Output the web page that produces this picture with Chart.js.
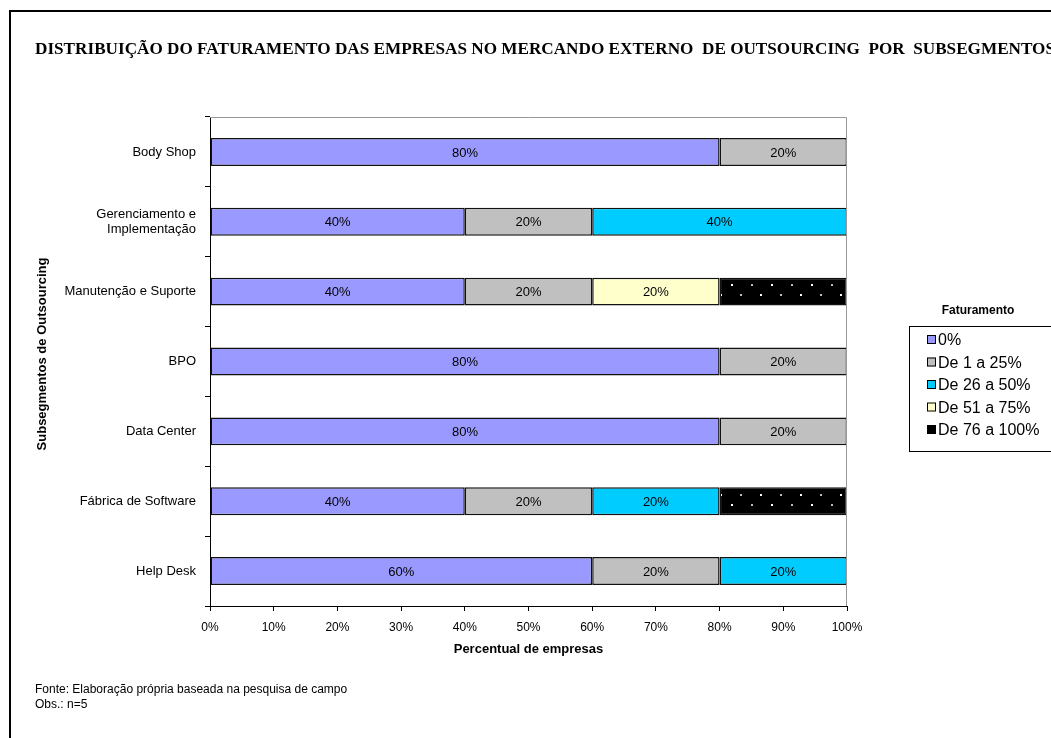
<!DOCTYPE html>
<html>
<head>
<meta charset="utf-8">
<script src="https://cdn.jsdelivr.net/npm/chart.js@4"></script>
<style>
  html, body { margin: 0; padding: 0; background: #fff; }
  #wrap { width: 1051px; height: 738px; }
</style>
</head>
<body>
<div id="wrap"><canvas id="barCanvas" width="1051" height="738"></canvas></div>
<script>
// categories (top to bottom) and the share of companies in each revenue band
var segmentos = ["Body Shop", ["Gerenciamento e", "Implementação"], "Manutenção e Suporte", "BPO", "Data Center", "Fábrica de Software", "Help Desk"];
var faixas = ["0%", "De 1 a 25%", "De 26 a 50%", "De 51 a 75%", "De 76 a 100%"];
var zeroPct    = [80, 40, 40, 80, 80, 40, 60];
var de1a25     = [20, 20, 20, 20, 20, 20, 20];
var de26a50    = [0, 40, 0, 0, 0, 20, 20];
var de51a75    = [0, 0, 20, 0, 0, 0, 0];
var de76a100   = [0, 0, 20, 0, 0, 20, 0];
var xTicks = [0, 10, 20, 30, 40, 50, 60, 70, 80, 90, 100];

var FONT = "'Liberation Sans', Arial, sans-serif";

// black fill with little white dots, like the excel pattern
function dotPattern(){
	var c = document.createElement("canvas");
	c.width = 40; c.height = 20;
	var g = c.getContext("2d");
	g.fillStyle = "#000";
	g.fillRect(0, 0, 40, 20);
	g.fillStyle = "#fff";
	g.fillRect(11, 4, 2, 2);
	g.fillRect(0, 14, 2, 2);
	g.fillStyle = "#bbb";
	g.fillRect(31, 4, 2, 2);
	g.fillRect(20, 14, 2, 2);
	return document.getElementById("barCanvas").getContext("2d").createPattern(c, "repeat");
}

var colors = ["#9999FF", "#C0C0C0", "#00CCFF", "#FFFFCC", dotPattern()];
var series = [zeroPct, de1a25, de26a50, de51a75, de76a100];

var datasets = [];
for (var i = 0; i < series.length; i++){
	datasets.push({
		label: faixas[i],
		data: series[i],
		backgroundColor: colors[i],
		borderColor: "#111",
		borderWidth: function(c){ return c.raw ? 1.5 : 0; },
		borderSkipped: false,
		barPercentage: 0.4,
		categoryPercentage: 1.0
	});
}

// frame, plot border, title, notes and the boxed legend
var decorPlugin = {
	id: "decor",
	beforeDraw: function(chart){
		var ctx = chart.ctx;
		ctx.save();
		ctx.fillStyle = "#fff";
		ctx.fillRect(0, 0, chart.width, chart.height);
		ctx.fillStyle = "#000";
		ctx.fillRect(9, 10, chart.width, 2);
		ctx.fillRect(9, 10, 2, chart.height);
		ctx.restore();
	},
	afterDatasetsDraw: function(chart){
		var ctx = chart.ctx;
		var a = chart.chartArea;
		ctx.save();
		// gray top/right edge of the plot area
		ctx.strokeStyle = "#999";
		ctx.lineWidth = 1;
		ctx.beginPath();
		ctx.moveTo(a.left, a.top + 0.5);
		ctx.lineTo(a.right - 0.5, a.top + 0.5);
		ctx.lineTo(a.right - 0.5, a.bottom);
		ctx.stroke();

		// value labels inside the segments
		ctx.font = "13px " + FONT;
		ctx.fillStyle = "#000";
		ctx.textAlign = "center";
		ctx.textBaseline = "middle";
		chart.data.datasets.forEach(function(ds, di){
			if (di == 4) return; // black segments: label invisible in original
			var meta = chart.getDatasetMeta(di);
			meta.data.forEach(function(bar, i){
				if (!ds.data[i]) return;
				var p = bar.getCenterPoint();
				ctx.fillText(ds.data[i] + "%", p.x, p.y + 1);
			});
		});

		// y axis title
		ctx.save();
		ctx.font = "bold 13px " + FONT;
		ctx.translate(42, 354);
		ctx.rotate(-Math.PI / 2);
		ctx.fillText("Subsegmentos de Outsourcing", 0, 0);
		ctx.restore();

		// title, squeezed to the width it has in the picture
		var title = "DISTRIBUIÇÃO DO FATURAMENTO DAS EMPRESAS NO MERCANDO EXTERNO  DE OUTSOURCING  POR  SUBSEGMENTOS";
		ctx.font = "bold 16px 'Liberation Serif', 'Times New Roman', serif";
		ctx.textAlign = "left";
		var w = ctx.measureText(title).width;
		ctx.save();
		ctx.translate(35, 50);
		ctx.scale(1020 / w, 1);
		ctx.fillText(title, 0, 0);
		ctx.restore();

		// notes
		ctx.font = "12px " + FONT;
		ctx.fillText("Fonte: Elaboração própria baseada na pesquisa de campo", 35, 690);
		ctx.fillText("Obs.: n=5", 35, 705);

		// legend
		ctx.font = "bold 12px " + FONT;
		ctx.textAlign = "center";
		ctx.fillText("Faturamento", 978, 311);
		ctx.strokeStyle = "#000";
		ctx.strokeRect(909.5, 326.5, 200, 125);
		ctx.font = "16px " + FONT;
		ctx.textAlign = "left";
		chart.data.datasets.forEach(function(ds, di){
			var y = 340 + di * 22.5;
			ctx.fillStyle = ds.backgroundColor;
			ctx.fillRect(927, y - 5, 9, 9);
			ctx.strokeStyle = "#000";
			ctx.strokeRect(927.5, y - 4.5, 8, 8);
			ctx.fillStyle = "#000";
			ctx.fillText(ds.label, 938, y + 1);
		});
		ctx.restore();
	}
};

var ctx = document.getElementById("barCanvas");
var barChart = new Chart(ctx, {
	type: "bar",
	data: { labels: segmentos, datasets: datasets },
	plugins: [decorPlugin],
	options: {
		indexAxis: "y",
		responsive: false,
		animation: false,
		layout: { padding: { left: 0, top: 117, right: 204, bottom: 0 } },
		plugins: {
			legend: { display: false },
			tooltip: { enabled: false }
		},
		scales: {
			x: {
				stacked: true,
				min: 0,
				max: 100,
				afterBuildTicks: function(s){ s.ticks = xTicks.map(function(v){ return { value: v }; }); },
				afterFit: function(s){ s.height = 132; },
				grid: { drawOnChartArea: false, tickLength: 5, color: "#000" },
				border: { color: "#000" },
				ticks: {
					color: "#000",
					font: { family: FONT, size: 12 },
					padding: 9,
					callback: function(v){ return v + "%"; }
				},
				title: {
					display: true,
					text: "Percentual de empresas",
					color: "#000",
					font: { family: FONT, size: 13, weight: "bold" },
					padding: { bottom: 81 }
				}
			},
			y: {
				stacked: true,
				afterFit: function(s){ s.width = 210; },
				grid: { drawOnChartArea: false, tickLength: 5, color: "#000", offset: true },
				border: { color: "#000" },
				ticks: {
					color: "#000",
					font: { family: FONT, size: 13 },
					padding: 9
				}
			}
		}
	}
});
</script>
</body>
</html>
